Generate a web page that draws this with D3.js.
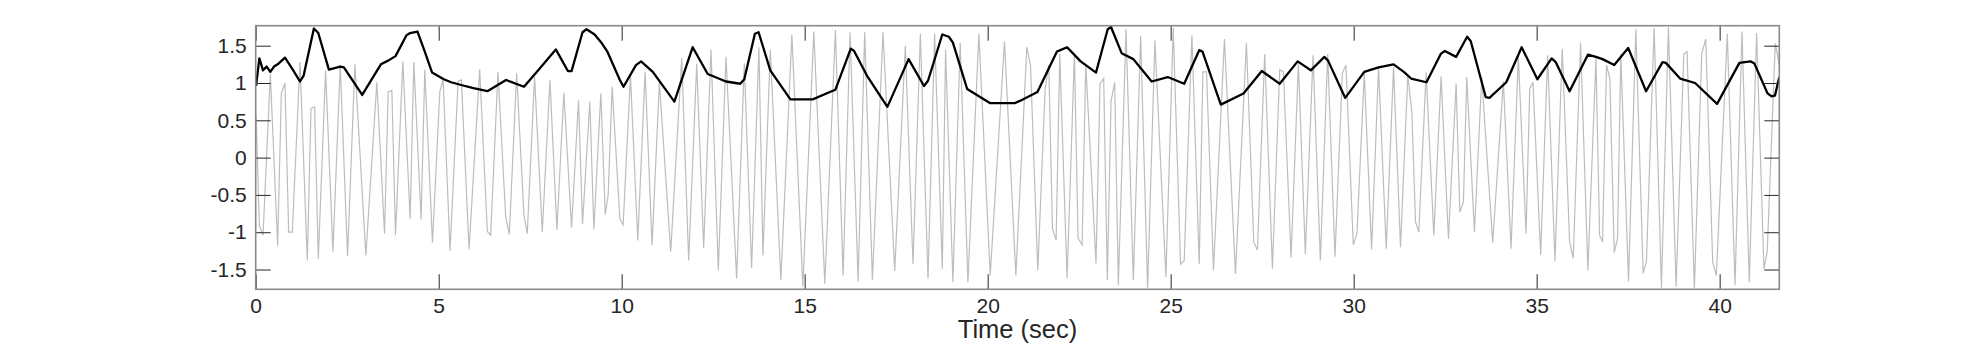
<!DOCTYPE html>
<html lang="en">
<head>
    <meta charset="UTF-8">
    <title>Time series with envelope</title>
    <style>
        body {
            margin: 0;
            background: #fff;
            font-family: "Liberation Sans", Arial, sans-serif;
        }
        .tick text {
            font-size: 21px;
            fill: #262626;
        }
        .tick line {
            stroke: #262626;
        }
    </style>
</head>
<body>
    <div id="chart"></div>

    <script src="https://d3js.org/d3.v7.min.js"></script>
    <script>
        // raw signal (grey), vertices
        const sigTime = [0.01, 0.10, 0.20, 0.40, 0.60, 0.70, 0.80, 0.90, 1.00, 1.21, 1.41, 1.51, 1.61, 1.71, 1.91, 2.11, 2.31, 2.51, 2.71, 3.01,
            3.31, 3.52, 3.62, 3.72, 3.82, 4.02, 4.22, 4.32, 4.52, 4.62, 4.83, 5.03, 5.12, 5.31, 5.53, 5.62, 5.83, 6.12, 6.33, 6.42,
            6.62, 6.83, 6.93, 7.13, 7.33, 7.42, 7.62, 7.83, 8.04, 8.23, 8.42, 8.63, 8.82, 8.93, 9.13, 9.24, 9.43, 9.55, 9.63, 9.74,
            9.95, 10.04, 10.24, 10.44, 10.64, 10.83, 11.03, 11.34, 11.64, 11.83, 12.05, 12.24, 12.44, 12.64, 12.85, 13.14, 13.35, 13.55, 13.75, 13.86,
            14.06, 14.35, 14.65, 14.95, 15.25, 15.55, 15.84, 16.05, 16.24, 16.46, 16.64, 16.85, 17.14, 17.46, 17.75, 17.96, 18.16, 18.37, 18.55, 18.76,
            18.85, 19.05, 19.25, 19.46, 19.76, 20.07, 20.46, 20.77, 21.07, 21.17, 21.37, 21.57, 21.67, 21.77, 21.87, 21.97, 22.17, 22.37, 22.47, 22.58,
            22.68, 22.96, 23.07, 23.17, 23.27, 23.37, 23.47, 23.57, 23.78, 23.98, 24.18, 24.37, 24.57, 24.87, 25.07, 25.27, 25.37, 25.58, 25.78, 25.88,
            25.98, 26.17, 26.47, 26.77, 27.07, 27.27, 27.37, 27.57, 27.78, 27.98, 28.08, 28.29, 28.49, 28.68, 28.89, 29.09, 29.29, 29.49, 29.69, 29.79,
            29.99, 30.09, 30.29, 30.49, 30.68, 30.89, 31.09, 31.28, 31.48, 31.59, 31.69, 31.78, 31.98, 32.19, 32.39, 32.59, 32.80, 32.90, 33.00, 33.09,
            33.30, 33.50, 33.80, 34.09, 34.30, 34.50, 34.71, 34.81, 34.90, 35.11, 35.30, 35.50, 35.70, 35.90, 36.00, 36.20, 36.40, 36.62, 36.72, 36.80,
            36.91, 37.00, 37.12, 37.21, 37.30, 37.51, 37.71, 37.91, 38.00, 38.21, 38.41, 38.60, 38.81, 39.02, 39.11, 39.31, 39.51, 39.62, 39.81, 39.91,
            40.21, 40.42, 40.61, 40.81, 41.01, 41.21, 41.30, 41.52, 41.63];
        const sigValue = [0.57, -0.91, -1.04, 1.12, -1.18, 0.86, 1.00, -1.00, -1.00, 1.28, -1.38, 0.66, 0.68, -1.36, 1.17, -1.26, 1.24, -1.32, 1.25, -1.31,
            1.01, -1.02, 0.88, 0.90, -1.04, 1.29, -0.82, 1.28, -0.83, 1.18, -1.14, 0.88, 1.05, -1.25, 1.02, 1.04, -1.23, 1.18, -0.99, -1.04,
            1.15, -0.79, -1.03, 1.13, -0.77, -1.02, 1.08, -1.00, 1.04, -0.97, 0.87, -0.94, 0.77, -0.89, 0.75, -0.96, 0.86, -0.76, -0.50, 0.95,
            -0.82, -0.90, 1.10, -1.11, 1.15, -1.17, 1.01, -1.26, 1.33, -1.38, 1.26, -1.21, 1.45, -1.51, 1.35, -1.62, 1.26, -1.48, 1.48, -1.31,
            1.45, -1.64, 1.65, -1.73, 1.69, -1.69, 1.71, -1.58, 1.68, -1.66, 1.68, -1.64, 1.68, -1.52, 1.50, -1.43, 1.66, -1.62, 1.66, -1.49,
            1.45, -1.67, 1.54, -1.67, 1.66, -1.58, 1.56, -1.58, 1.48, 1.24, -1.51, 0.92, 1.24, -0.95, -1.11, 1.39, -1.62, 1.39, -1.08, -1.17,
            1.26, -1.42, 0.99, 1.06, -1.64, 0.75, 1.01, -1.71, 1.72, -1.64, 1.63, -1.75, 1.57, -1.60, 1.74, -1.43, -1.38, 1.64, -1.43, 1.15,
            1.15, -1.51, 1.59, -1.56, 1.54, -1.13, -1.24, 1.39, -1.49, 1.18, 1.15, -1.34, 1.26, -1.29, 1.37, -1.38, 1.39, -1.33, 1.13, 1.24,
            -1.17, -1.02, 1.13, -1.23, 1.21, -1.22, 1.21, -1.20, 1.10, 0.61, -0.86, -1.00, 1.14, -1.04, 1.09, -1.09, 0.99, -0.73, -0.59, 1.08,
            -1.00, 1.08, -1.14, 1.02, -1.22, 1.35, -1.02, 0.92, 1.01, -1.30, 1.37, -1.39, 1.46, -1.13, -1.35, 1.54, -1.51, 1.33, -1.04, -1.13,
            1.24, 1.06, -1.27, -1.08, 1.39, -1.66, 1.72, -1.55, -1.39, 1.74, -1.75, 1.75, -1.73, 1.39, 1.42, -1.75, 1.39, 1.59, -1.40, -1.58,
            1.66, -1.71, 1.69, -1.67, 1.67, -1.49, -1.26, 1.53, 1.24];

        // envelope (black)
        const envTime = [0.01, 0.10, 0.20, 0.30, 0.40, 0.50, 0.60, 0.80, 1.00, 1.21, 1.31, 1.59, 1.71, 2.00, 2.31, 2.41, 2.91, 3.42, 3.62, 3.82,
            4.12, 4.22, 4.42, 4.62, 4.82, 5.14, 5.34, 5.64, 5.95, 6.33, 6.84, 7.33, 7.72, 8.20, 8.53, 8.63, 8.93, 9.04, 9.26, 9.43,
            9.61, 9.95, 10.05, 10.39, 10.53, 10.85, 11.44, 11.94, 12.35, 12.85, 13.24, 13.35, 13.64, 13.74, 14.06, 14.61, 15.22, 15.64, 15.84, 16.26,
            16.35, 16.70, 17.26, 17.84, 18.26, 18.37, 18.76, 18.94, 19.05, 19.44, 20.07, 20.74, 20.88, 21.36, 21.89, 22.17, 22.54, 22.96, 23.28, 23.37,
            23.66, 23.98, 24.48, 24.92, 25.37, 25.78, 25.87, 26.37, 26.99, 27.49, 27.98, 28.47, 28.83, 29.20, 29.30, 29.77, 30.29, 30.68, 31.09, 31.37,
            31.57, 31.99, 32.38, 32.49, 32.80, 33.10, 33.20, 33.61, 33.71, 34.17, 34.59, 35.02, 35.41, 35.52, 35.90, 36.40, 36.62, 36.80, 37.12, 37.50,
            37.99, 38.44, 38.53, 38.92, 39.33, 39.93, 40.54, 40.84, 40.95, 41.31, 41.42, 41.51, 41.63];
        const envValue = [0.96, 1.33, 1.17, 1.22, 1.15, 1.22, 1.25, 1.34, 1.19, 1.02, 1.10, 1.73, 1.67, 1.18, 1.22, 1.21, 0.84, 1.25, 1.30, 1.36,
            1.64, 1.67, 1.69, 1.42, 1.14, 1.05, 1.01, 0.97, 0.93, 0.89, 1.04, 0.95, 1.17, 1.45, 1.16, 1.16, 1.68, 1.72, 1.65, 1.55,
            1.42, 1.04, 0.95, 1.24, 1.29, 1.15, 0.75, 1.48, 1.12, 1.02, 0.99, 1.05, 1.66, 1.68, 1.17, 0.78, 0.78, 0.87, 0.91, 1.46,
            1.43, 1.10, 0.68, 1.32, 0.96, 1.03, 1.65, 1.62, 1.54, 0.92, 0.73, 0.73, 0.76, 0.88, 1.42, 1.48, 1.29, 1.14, 1.72, 1.75,
            1.40, 1.32, 1.02, 1.08, 0.99, 1.44, 1.42, 0.71, 0.86, 1.16, 0.99, 1.29, 1.17, 1.35, 1.30, 0.80, 1.15, 1.21, 1.25, 1.15,
            1.06, 1.01, 1.39, 1.43, 1.35, 1.62, 1.56, 0.81, 0.80, 1.01, 1.48, 1.05, 1.33, 1.28, 0.89, 1.38, 1.35, 1.32, 1.24, 1.47,
            0.89, 1.28, 1.27, 1.06, 1.00, 0.72, 1.27, 1.29, 1.26, 0.86, 0.82, 0.83, 1.08];

        const xTicks = [0, 5, 10, 15, 20, 25, 30, 35, 40];
        const yTicks = [-1.5, -1, -0.5, 0, 0.5, 1, 1.5];
        const xDomain = [0, 41.63];
        const yDomain = [-1.765, 1.768];

        const width = 1966, height = 346;
        const box = {left: 255.7, right: 1779.3, top: 25.7, bottom: 289.3};

        const svg = d3.select('#chart')
                      .append('svg')
                      .attr('width', width)
                      .attr('height', height);

        const x = d3.scaleLinear().domain(xDomain).range([box.left, box.right]);
        const y = d3.scaleLinear().domain(yDomain).range([box.bottom, box.top]);

        svg.append('clipPath')
           .attr('id', 'plot-clip')
           .append('rect')
           .attr('x', box.left)
           .attr('y', box.top)
           .attr('width', box.right - box.left)
           .attr('height', box.bottom - box.top);

        const line = d3.line()
                       .x(d => x(d[0]))
                       .y(d => y(d[1]));

        const sig = sigTime.map((t, i) => [t, sigValue[i]]);
        const env = envTime.map((t, i) => [t, envValue[i]]);

        svg.append('path')
           .datum(sig)
           .attr('clip-path', 'url(#plot-clip)')
           .attr('fill', 'none')
           .attr('stroke', '#bdbdbd')
           .attr('stroke-width', 1.2)
           .attr('d', line);

        svg.append('path')
           .datum(env)
           .attr('clip-path', 'url(#plot-clip)')
           .attr('fill', 'none')
           .attr('stroke', '#000')
           .attr('stroke-width', 2.3)
           .attr('stroke-linejoin', 'round')
           .attr('d', line);

        // axes with inward ticks on all four sides, plain hyphen for minus
        const fmt = d => String(d);
        svg.append('g')
           .attr('transform', 'translate(0,' + box.bottom + ')')
           .call(d3.axisBottom(x).tickValues(xTicks).tickSize(-15).tickPadding(9).tickFormat(fmt));
        svg.append('g')
           .attr('transform', 'translate(0,' + box.top + ')')
           .call(d3.axisTop(x).tickValues(xTicks).tickSize(-15).tickFormat(''));
        svg.append('g')
           .attr('transform', 'translate(' + box.left + ',0)')
           .call(d3.axisLeft(y).tickValues(yTicks).tickSize(-15).tickPadding(9).tickFormat(fmt));
        svg.append('g')
           .attr('transform', 'translate(' + box.right + ',0)')
           .call(d3.axisRight(y).tickValues(yTicks).tickSize(-15).tickFormat(''));

        svg.selectAll('.domain').remove();
        svg.selectAll('.tick text')
           .attr('font-family', '"Liberation Sans", Arial, sans-serif');

        svg.append('rect')
           .attr('x', box.left)
           .attr('y', box.top)
           .attr('width', box.right - box.left)
           .attr('height', box.bottom - box.top)
           .attr('fill', 'none')
           .attr('stroke', '#8a8a8a')
           .attr('stroke-width', 1.6);

        svg.append('text')
           .attr('x', (box.left + box.right) / 2)
           .attr('y', 338)
           .attr('text-anchor', 'middle')
           .attr('font-size', 25.5)
           .attr('font-family', '"Liberation Sans", Arial, sans-serif')
           .attr('fill', '#262626')
           .text('Time (sec)');
    </script>
</body>
</html>
